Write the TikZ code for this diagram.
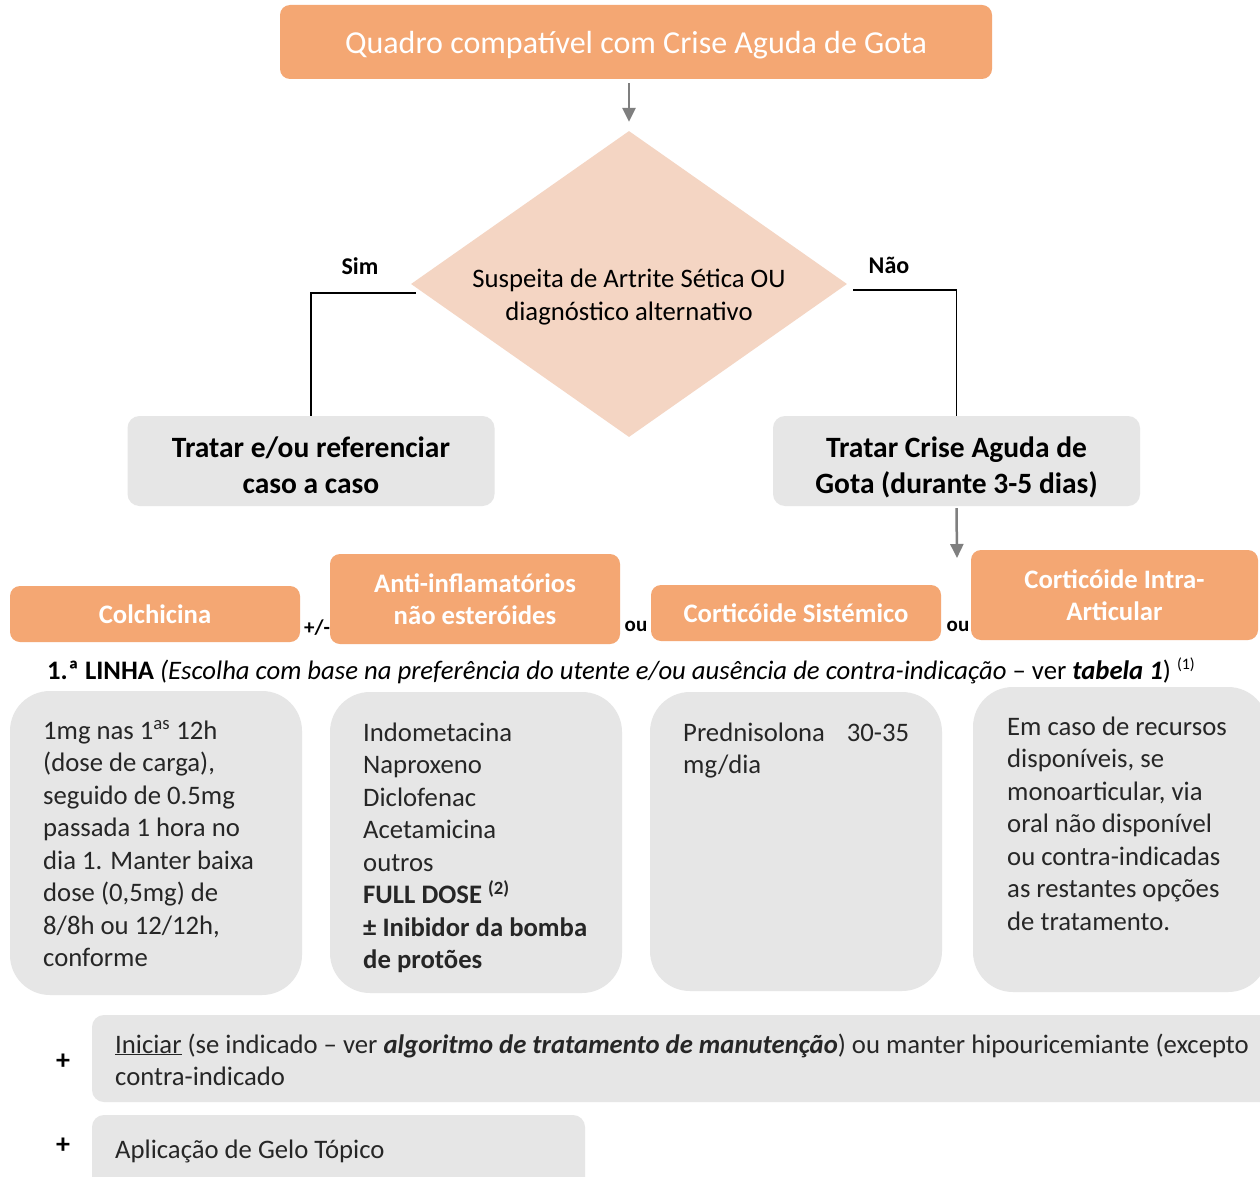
\documentclass[tikz,border=0pt]{standalone}
\usepackage{fontspec}
\setmainfont{Carlito}
\usetikzlibrary{shapes.geometric,arrows.meta,calc}
\definecolor{orng}{RGB}{244,167,115}
\definecolor{peach}{RGB}{244,213,195}
\definecolor{boxgray}{RGB}{230,230,230}
\definecolor{arrgray}{RGB}{127,127,127}
\definecolor{txt}{RGB}{38,38,38}
\begin{document}
\begin{tikzpicture}[x=1pt,y=-1pt,
 obox/.style={fill=orng, rounded corners=10pt, text=white, font=\bfseries\fontsize{26.7}{32}\selectfont, align=center, inner sep=0pt},
 gbox/.style={fill=boxgray, rounded corners=12pt, inner sep=0pt},
 bigbox/.style={fill=boxgray, rounded corners=40pt, inner sep=0pt},
 body/.style={text=txt, font=\fontsize{26.7}{32.5}\selectfont, align=left, inner sep=0pt, anchor=base west},
 arr/.style={draw=arrgray, line width=2.5pt, -{Triangle[width=13pt,length=14pt]}},
 conn/.style={draw=black, line width=1.5pt},
 lbl/.style={font=\bfseries\fontsize{24}{28}\selectfont, inner sep=0pt},
 sml/.style={font=\bfseries\fontsize{21}{24}\selectfont, inner sep=0pt},
]
\useasboundingbox (0,0) rectangle (1260,1177);
\fill[white] (0,0) rectangle (1260,1177);

% top
\node[fill=orng, rounded corners=10pt, minimum width=712pt, minimum height=74pt, inner sep=0pt, text=white, text depth=0pt, font=\fontsize{32}{38}\selectfont] (top) at (636,42) {Quadro compatível com Crise Aguda de Gota};

% decision
\node[diamond, fill=peach, minimum width=436pt, minimum height=306pt, inner sep=0pt, aspect=1.425] (q) at (629,284) {};
\node[font=\fontsize{26.7}{33}\selectfont, align=center, text=black, inner sep=0pt] (qt) at (629,297) {Suspeita de Artrite Sética OU\\diagnóstico alternativo};

\node[lbl] (sim) at (360,266) {Sim};
\node[lbl] (nao) at (889,265) {Não};

% second level
\node[gbox, minimum width=367pt, minimum height=90pt, font=\bfseries\fontsize{29.5}{36}\selectfont, align=center] (lb) at (311,461) {\rule{0pt}{29pt}Tratar e/ou referenciar\\caso a caso};
\node[gbox, minimum width=367pt, minimum height=90pt, font=\bfseries\fontsize{29.5}{36}\selectfont, align=center] (rb) at (956.5,461) {\rule{0pt}{33pt}Tratar Crise Aguda de\\Gota (durante 3-5 dias)};

\draw[arr] ($(q.north |- top.south)+(0,4)$) -- ($(q.north)+(0,-9)$);
\coordinate (qL) at ($(q.west)+(5,9)$);
\coordinate (qR) at ($(q.east)+(6,6)$);
\draw[conn] (qL) -| (lb.north);
\draw[conn] (qR) -| (rb.north);
\coordinate (a2) at (957,558);
\draw[arr] ($(rb.south)+(0,2)$) -- (a2);

% options
\node[obox, minimum width=290pt, minimum height=56pt] (col) at (155,614) {Colchicina};
\node[obox, minimum width=290pt, minimum height=90pt] (ains) at (475,599) {Anti-inflamatórios\\não esteróides};
\node[obox, minimum width=290pt, minimum height=56pt] (cs) at (796,613) {Corticóide Sistémico};
\node[obox, minimum width=287pt, minimum height=90pt] (cia) at (1114.5,595) {Corticóide Intra-\\Articular};

\node[sml] (pm) at (317,628) {+/-};
\node[sml] (ou1) at (636,626) {ou};
\node[sml] (ou2) at (958,626) {ou};

\node[anchor=base west, inner sep=0pt, font=\fontsize{26.7}{30}\selectfont, text=black] (linha) at (47,679) {\textbf{1.ª LINHA} \textit{(Escolha com base na preferência do utente e/ou ausência de contra-indicação} – ver \textbf{\textit{tabela 1}}) \textsuperscript{\fontsize{16}{18}\selectfont(1)}};

% detail boxes
\node[bigbox, minimum width=292pt, minimum height=304pt] (b1) at (156,843) {};
\node[bigbox, minimum width=292pt, minimum height=301pt] (b2) at (476,842.5) {};
\node[bigbox, minimum width=292pt, minimum height=299pt] (b3) at (796,841.5) {};
\node[bigbox, minimum width=295pt, minimum height=305pt] (b4) at (1120.5,839.5) {};

\node[body] (t1) at (43,966.5) {1mg nas 1\textsuperscript{as} 12h\\(dose de carga),\\seguido de 0.5mg\\passada 1 hora no\\dia 1. Manter baixa\\dose (0,5mg) de\\8/8h ou 12/12h,\\conforme};
\node[body] (t2) at (363,968.5) {Indometacina\\Naproxeno\\Diclofenac\\Acetamicina\\outros\\\textbf{FULL DOSE \textsuperscript{(2)}}\\\textbf{± Inibidor da bomba}\\\textbf{de protões}};
\node[body] (t3) at (683,773.5) {Prednisolona\hspace{22pt}30-35\\mg/dia};
\node[body] (t4) at (1007,930) {Em caso de recursos\\disponíveis, se\\monoarticular, via\\oral não disponível\\ou contra-indicadas\\as restantes opções\\de tratamento.};

% bottom
\node[font=\bfseries\fontsize{28}{30}\selectfont, inner sep=0pt] (p1) at (63,1062) {+};
\node[font=\bfseries\fontsize{28}{30}\selectfont, inner sep=0pt] (p2) at (63,1146) {+};
\node[gbox, minimum width=1198pt, minimum height=87pt] (bb1) at (691,1058.5) {};
\node[gbox, minimum width=493pt, minimum height=85pt] (bb2) at (338.5,1157.5) {};
\node[body, font=\fontsize{26.7}{32}\selectfont] (tb1) at (115,1085) {\underline{Iniciar} (se indicado – ver \textbf{\textit{algoritmo de tratamento de manutenção}}) ou manter hipouricemiante (excepto\\contra-indicado};
\node[body] (tb2) at (115,1158) {Aplicação de Gelo Tópico};
\end{tikzpicture}
\end{document}
